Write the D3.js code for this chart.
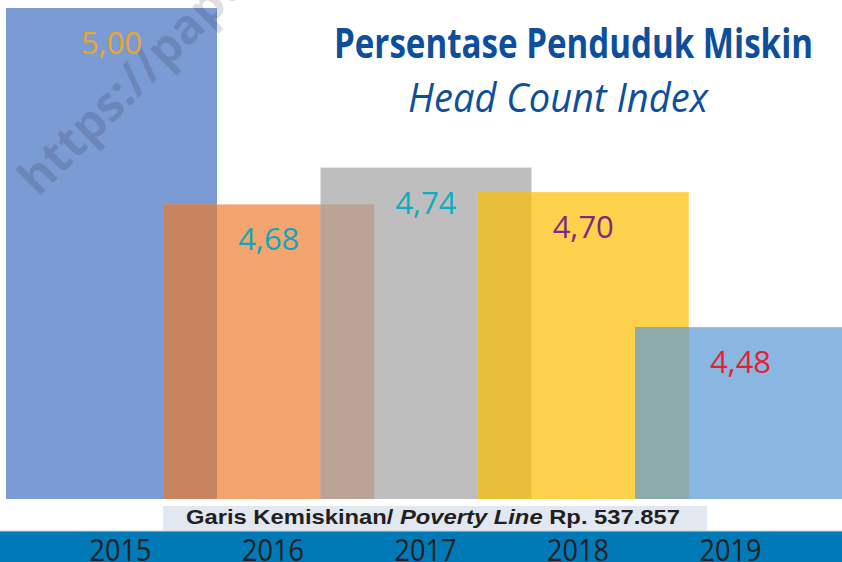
<!DOCTYPE html>
<html><head><meta charset="utf-8">
<script src="https://cdn.jsdelivr.net/npm/d3@7"></script>
<style>html,body{margin:0;padding:0;background:#fff;overflow:hidden}svg{display:block}</style>
</head><body>
<script>
const years = ["2015","2016","2017","2018","2019"];
const values = [5.00, 4.68, 4.74, 4.70, 4.48];
const valueLabels = ["5,00","4,68","4,74","4,70","4,48"];
const barColors = ["#7b9bd5","#f3a46f","#bebebe","#fdd14b","#8ab7e1"];
const overlapColors = ["#c8845f","#bba395","#e9bf39","#8daaad"];
const labelColors = ["#e8a62a","#0ea7bf","#12aabf","#7d2a85","#e2232f"];
const title = "Persentase Penduduk Miskin";
const subtitle = "Head Count Index";
const captionParts = [["Garis Kemiskinan/ ","normal"],["Poverty Line","italic"],[" Rp. 537.857","normal"]];
const watermark = "https://papua.bps.go.id";

const W = 842, H = 562;
const svg = d3.select("body").append("svg").attr("width", W).attr("height", H);

const y = d3.scaleLinear().domain([4.2, 5.0]).range([499, 8]);
const xi = d3.scaleLinear().domain([0, 4]).range([6, 635]);
const barW = 211;
const xYear = d3.scalePoint().domain(years).range([120, 730]);

const data = years.map((yr, i) => ({yr, v: values[i], i}));

// bars
svg.selectAll("rect.bar").data(data).join("rect").attr("class","bar")
  .attr("x", d => xi(d.i)).attr("y", d => y(d.v))
  .attr("width", barW).attr("height", d => y.range()[0] - y(d.v))
  .attr("fill", d => barColors[d.i]);

// overlaps between adjacent bars
const pairs = d3.pairs(data);
svg.selectAll("rect.ov").data(pairs).join("rect").attr("class","ov")
  .attr("x", p => xi(p[1].i))
  .attr("y", p => y(Math.min(p[0].v, p[1].v)))
  .attr("width", p => xi(p[0].i) + barW - xi(p[1].i))
  .attr("height", p => y.range()[0] - y(Math.min(p[0].v, p[1].v)))
  .attr("fill", (p, k) => overlapColors[k]);

// watermark
svg.append("text")
  .attr("transform", "translate(38,198) rotate(-45)")
  .attr("font-family", "Open Sans, sans-serif").attr("font-weight", 700)
  .attr("font-size", 48).attr("fill", "#000").attr("fill-opacity", 0.12)
  .text(watermark);

// value labels
svg.selectAll("text.val").data(data).join("text").attr("class","val")
  .attr("x", d => xi(d.i) + barW / 2)
  .attr("y", d => y(d.v) + 46)
  .attr("text-anchor", "middle")
  .attr("font-family", "Open Sans, sans-serif").attr("font-size", 31)
  .attr("fill", d => labelColors[d.i])
  .text(d => valueLabels[d.i]);

// title
svg.append("text").attr("x", 334).attr("y", 58)
  .attr("font-family", "Liberation Sans Narrow, Open Sans, sans-serif").attr("font-weight", 700)
  .attr("font-size", 41).attr("fill", "#0d4f9c")
  .attr("textLength", 479).attr("lengthAdjust", "spacingAndGlyphs")
  .text(title);
svg.append("text").attr("x", 408).attr("y", 112)
  .attr("font-family", "Open Sans, sans-serif").attr("font-style", "italic")
  .attr("font-size", 41).attr("fill", "#0d4f9c")
  .attr("textLength", 300).attr("lengthAdjust", "spacingAndGlyphs")
  .text(subtitle);

// caption box
svg.append("rect").attr("x", 163).attr("y", 506).attr("width", 544).attr("height", 25).attr("fill", "#e1e8f0");
const cap = svg.append("text").attr("x", 186).attr("y", 523.5)
  .attr("font-family", "Liberation Sans, Arial, sans-serif").attr("font-weight", 700)
  .attr("font-size", 21).attr("fill", "#231f20")
  .attr("textLength", 494).attr("lengthAdjust", "spacingAndGlyphs");
cap.selectAll("tspan").data(captionParts).join("tspan")
  .attr("font-style", d => d[1]).text(d => d[0]);

// bottom band + year axis
svg.append("rect").attr("x", 0).attr("y", 531).attr("width", W).attr("height", 31).attr("fill", "#0079b7");
svg.append("line").attr("x1", 0).attr("x2", W).attr("y1", 531).attr("y2", 531).attr("stroke", "#c9d3dc").attr("stroke-width", 1);

const axis = d3.axisBottom(xYear).tickSize(0).tickPadding(0);
const gAxis = svg.append("g").call(axis);
gAxis.select(".domain").remove();
gAxis.selectAll("text")
  .attr("y", 561).attr("dy", null)
  .attr("font-family", "Liberation Sans Narrow, Open Sans, sans-serif")
  .attr("font-size", 31).attr("fill", "#231f20")
  .attr("textLength", 62).attr("lengthAdjust", "spacingAndGlyphs");
</script>
</body></html>
